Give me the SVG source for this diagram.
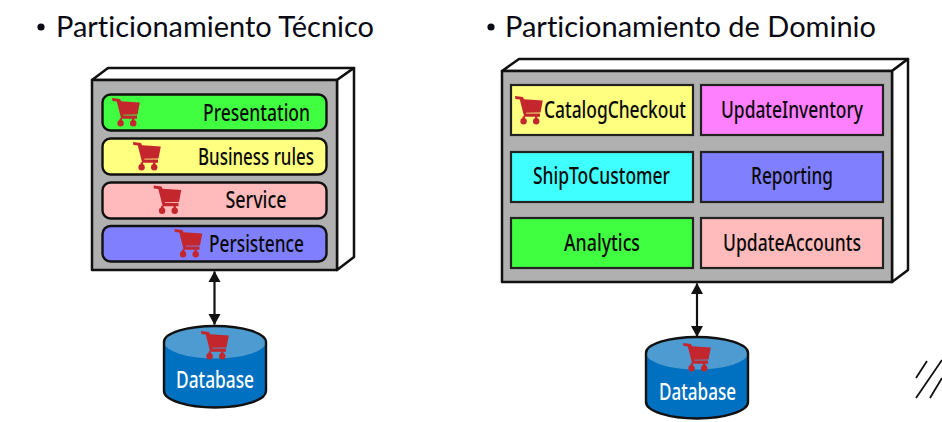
<svg xmlns="http://www.w3.org/2000/svg" width="942" height="422" viewBox="0 0 942 422">
<style>
.title{font-family:"Lato","Noto Sans",sans-serif;font-size:28px;fill:#0a0a14;font-variant-ligatures:none}
.lbl{font-family:"Noto Sans","Liberation Sans",sans-serif;font-size:23px;font-weight:500;fill:#0a0a0a}
.db{font-family:"Noto Sans","Liberation Sans",sans-serif;font-size:23px;font-weight:500;fill:#fff}
.face{fill:#b0b0b0;stroke:#111;stroke-width:2.5;stroke-linejoin:round}
.side{fill:#fff;stroke:#111;stroke-width:2.5;stroke-linejoin:round}
.layer{stroke:#111;stroke-width:2.4}
.cell{stroke:#222;stroke-width:2.2}
.link{stroke:#111;stroke-width:2.2;fill:none;marker-start:url(#ah);marker-end:url(#ah)}
.dbbody{fill:#0070c0}
.dbtop{fill:#4d9bd0}
.dbline{fill:none;stroke:#111;stroke-width:2.4}
</style>
<defs>
<marker id="ah" viewBox="0 0 12 13" refX="10.500" refY="6.500" markerWidth="12" markerHeight="13" markerUnits="userSpaceOnUse" orient="auto-start-reverse"><path d="M0 0.500L11 6.500L0 12.500Z" fill="#111"/></marker>
<g id="cart" fill="#c4262e">
<path d="M0 0L8 1L9 3.200L27.800 4.600L25.500 16.400L11 16.800L11.500 17.400L25 17.400L25 20.800L9.200 20.800L4.800 3.400L0.400 3Z"/>
<circle cx="8.600" cy="25.300" r="3.200"/><circle cx="21.200" cy="25.300" r="3.200"/>
<path d="M7.600 20.200h2.400v3h-2.400zM20 20.200h2.400v3h-2.400z"/>
</g>
</defs>

<g id="title-left">
<circle cx="41" cy="27" r="3.600" fill="#0a0a14"/>
<text class="title" x="56" y="37" textLength="318" lengthAdjust="spacingAndGlyphs">Particionamiento Técnico</text>
</g>
<g id="title-right">
<circle cx="491" cy="27" r="3.600" fill="#0a0a14"/>
<text class="title" x="505" y="37" textLength="371" lengthAdjust="spacingAndGlyphs">Particionamiento de Dominio</text>
</g>

<g id="connectors">
<line class="link" x1="214.500" y1="271.500" x2="214.500" y2="324.500"/>
<line class="link" x1="697" y1="283.500" x2="697" y2="336.500"/>
</g>

<g id="technical-box">
<path class="side" d="M92 80L108 68H354L337 80Z"/>
<path class="side" d="M337 80L354 68V257L337 270Z"/>
<rect class="face" x="92" y="80" width="245" height="190"/>
</g>
<g id="presentation">
<rect class="layer" x="102.500" y="94.500" width="224" height="36" rx="8" fill="#40ff40"/>
<use href="#cart" x="112" y="98"/>
<text class="lbl" x="203" y="121" textLength="107" lengthAdjust="spacingAndGlyphs">Presentation</text>
</g>
<g id="business-rules">
<rect class="layer" x="102.500" y="138.500" width="224" height="36" rx="8" fill="#ffff80"/>
<use href="#cart" x="133" y="142"/>
<text class="lbl" x="198" y="164.500" textLength="116" lengthAdjust="spacingAndGlyphs">Business rules</text>
</g>
<g id="service">
<rect class="layer" x="102.500" y="182.500" width="224" height="36" rx="8" fill="#ffbbbb"/>
<use href="#cart" x="153.500" y="185.500"/>
<text class="lbl" x="225.500" y="208" textLength="61" lengthAdjust="spacingAndGlyphs">Service</text>
</g>
<g id="persistence">
<rect class="layer" x="102.500" y="226" width="224" height="35.500" rx="8" fill="#8080ff"/>
<use href="#cart" x="174.500" y="229"/>
<text class="lbl" x="209" y="252" textLength="95" lengthAdjust="spacingAndGlyphs">Persistence</text>
</g>

<g id="database-left">
<path class="dbbody" d="M164 342V391A51 16.500 0 0 0 266 391V342Z"/>
<path class="dbtop" d="M164 342A51 16 0 0 1 266 342A51 16.500 0 0 1 164 342Z"/>
<path class="dbline" d="M164 342A51 16 0 0 1 266 342V391A51 16.500 0 0 1 164 391Z"/>
<use href="#cart" x="201" y="331"/>
<text class="db" x="176" y="388" textLength="78" lengthAdjust="spacingAndGlyphs">Database</text>
</g>

<g id="domain-box">
<path class="side" d="M502 71L519 59H908L892 71Z"/>
<path class="side" d="M892 71L908 59V270L892 282Z"/>
<rect class="face" x="502" y="71" width="390" height="211"/>
</g>
<g id="catalog-checkout">
<rect class="cell" x="511" y="85" width="182" height="50" fill="#ffff80"/>
<use href="#cart" x="515" y="96"/>
<text class="lbl" x="544" y="118" textLength="142" lengthAdjust="spacingAndGlyphs">CatalogCheckout</text>
</g>
<g id="update-inventory">
<rect class="cell" x="701" y="85" width="182" height="50" fill="#ff80ff"/>
<text class="lbl" x="721" y="118" textLength="142" lengthAdjust="spacingAndGlyphs">UpdateInventory</text>
</g>
<g id="ship-to-customer">
<rect class="cell" x="511" y="152" width="182" height="50" fill="#40ffff"/>
<text class="lbl" x="533" y="184" textLength="137" lengthAdjust="spacingAndGlyphs">ShipToCustomer</text>
</g>
<g id="reporting">
<rect class="cell" x="701" y="152" width="182" height="50" fill="#8080ff"/>
<text class="lbl" x="751" y="184" textLength="82" lengthAdjust="spacingAndGlyphs">Reporting</text>
</g>
<g id="analytics">
<rect class="cell" x="511" y="218" width="182" height="50" fill="#40ff40"/>
<text class="lbl" x="564" y="251" textLength="76" lengthAdjust="spacingAndGlyphs">Analytics</text>
</g>
<g id="update-accounts">
<rect class="cell" x="701" y="218" width="182" height="50" fill="#ffbbbb"/>
<text class="lbl" x="723" y="251" textLength="138" lengthAdjust="spacingAndGlyphs">UpdateAccounts</text>
</g>

<g id="database-right">
<path class="dbbody" d="M646 353V402A51 16.500 0 0 0 748 402V353Z"/>
<path class="dbtop" d="M646 353A51 16 0 0 1 748 353A51 16.500 0 0 1 646 353Z"/>
<path class="dbline" d="M646 353A51 16 0 0 1 748 353V402A51 16.500 0 0 1 646 402Z"/>
<use href="#cart" x="683" y="343"/>
<text class="db" x="659" y="400" textLength="77" lengthAdjust="spacingAndGlyphs">Database</text>
</g>

<path d="M916 378L927 361M916 398L942 360M930 398L942 378" stroke="#111" stroke-width="1.800" fill="none"/>
</svg>
